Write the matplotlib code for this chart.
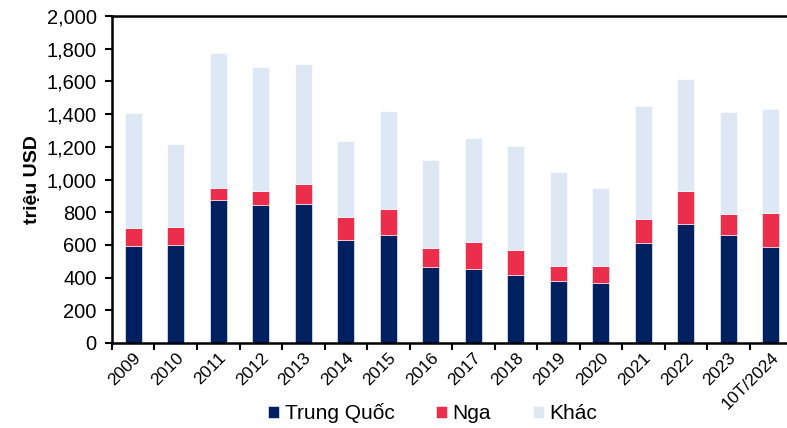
import matplotlib.pyplot as plt
import matplotlib.ticker as mticker
import numpy as np

plt.rcParams['font.family'] = ['Liberation Sans', 'DejaVu Sans']

# số liệu (triệu USD)
years = ['2009', '2010', '2011', '2012', '2013', '2014', '2015', '2016',
         '2017', '2018', '2019', '2020', '2021', '2022', '2023', '10T/2024']
trung_quoc = [593, 599, 875, 846, 850, 632, 661, 464, 454, 417, 378, 364, 610, 727, 659, 586]
nga = [108, 108, 75, 86, 121, 139, 159, 120, 161, 151, 96, 110, 151, 201, 131, 208]
khac = [708, 508, 826, 758, 734, 467, 601, 538, 636, 634, 569, 473, 687, 688, 624, 636]

c_tq = '#002060'
c_nga = '#EA2E4C'
c_khac = '#DDE8F4'

x = np.arange(len(years))
tq = np.array(trung_quoc)
ng = np.array(nga)

fig = plt.figure(figsize=(7.87, 4.28), dpi=100)
ax = fig.add_axes([0.1423, 0.1986, 0.8577, 0.764])

w = 0.4
ax.bar(x, tq, w, color=c_tq, edgecolor='white', linewidth=0.4, label='Trung Quốc')
ax.bar(x, ng, w, bottom=tq, color=c_nga, edgecolor='white', linewidth=0.4, label='Nga')
ax.bar(x, khac, w, bottom=tq + ng, color=c_khac, edgecolor='white', linewidth=0.4, label='Khác')

ax.set_xlim(-0.5, 15.38)
ax.set_ylim(0, 2000)
ax.yaxis.set_major_locator(mticker.MultipleLocator(200))
ax.yaxis.set_major_formatter(mticker.FuncFormatter(lambda v, p: f'{int(v):,}'))

# vạch chia giữa các cột
ax.set_xticks(np.arange(-0.5, 15.5, 1))
ax.set_xticklabels([])
ax.set_xticks(x, minor=True)
ax.set_xticklabels(years, minor=True, rotation=45, ha='right', rotation_mode='anchor', fontsize=12.5)
ax.tick_params(axis='x', which='minor', length=0, pad=5)
ax.tick_params(axis='x', which='major', length=5, width=1.5, direction='out')
ax.tick_params(axis='y', length=5, width=1.5, direction='out', labelsize=14.5, pad=6)

for s in ['left', 'bottom', 'top']:
    ax.spines[s].set_linewidth(1.8)
ax.spines['right'].set_visible(False)

ax.set_ylabel('triệu USD', fontsize=14, fontweight='bold', labelpad=4)

ax.legend(loc='center', bbox_to_anchor=(0.475, -0.215), ncol=3, frameon=False,
          fontsize=15, handlelength=0.55, handleheight=0.55, handletextpad=0.25,
          columnspacing=2.0)

fig.savefig('out.png', dpi=100)
